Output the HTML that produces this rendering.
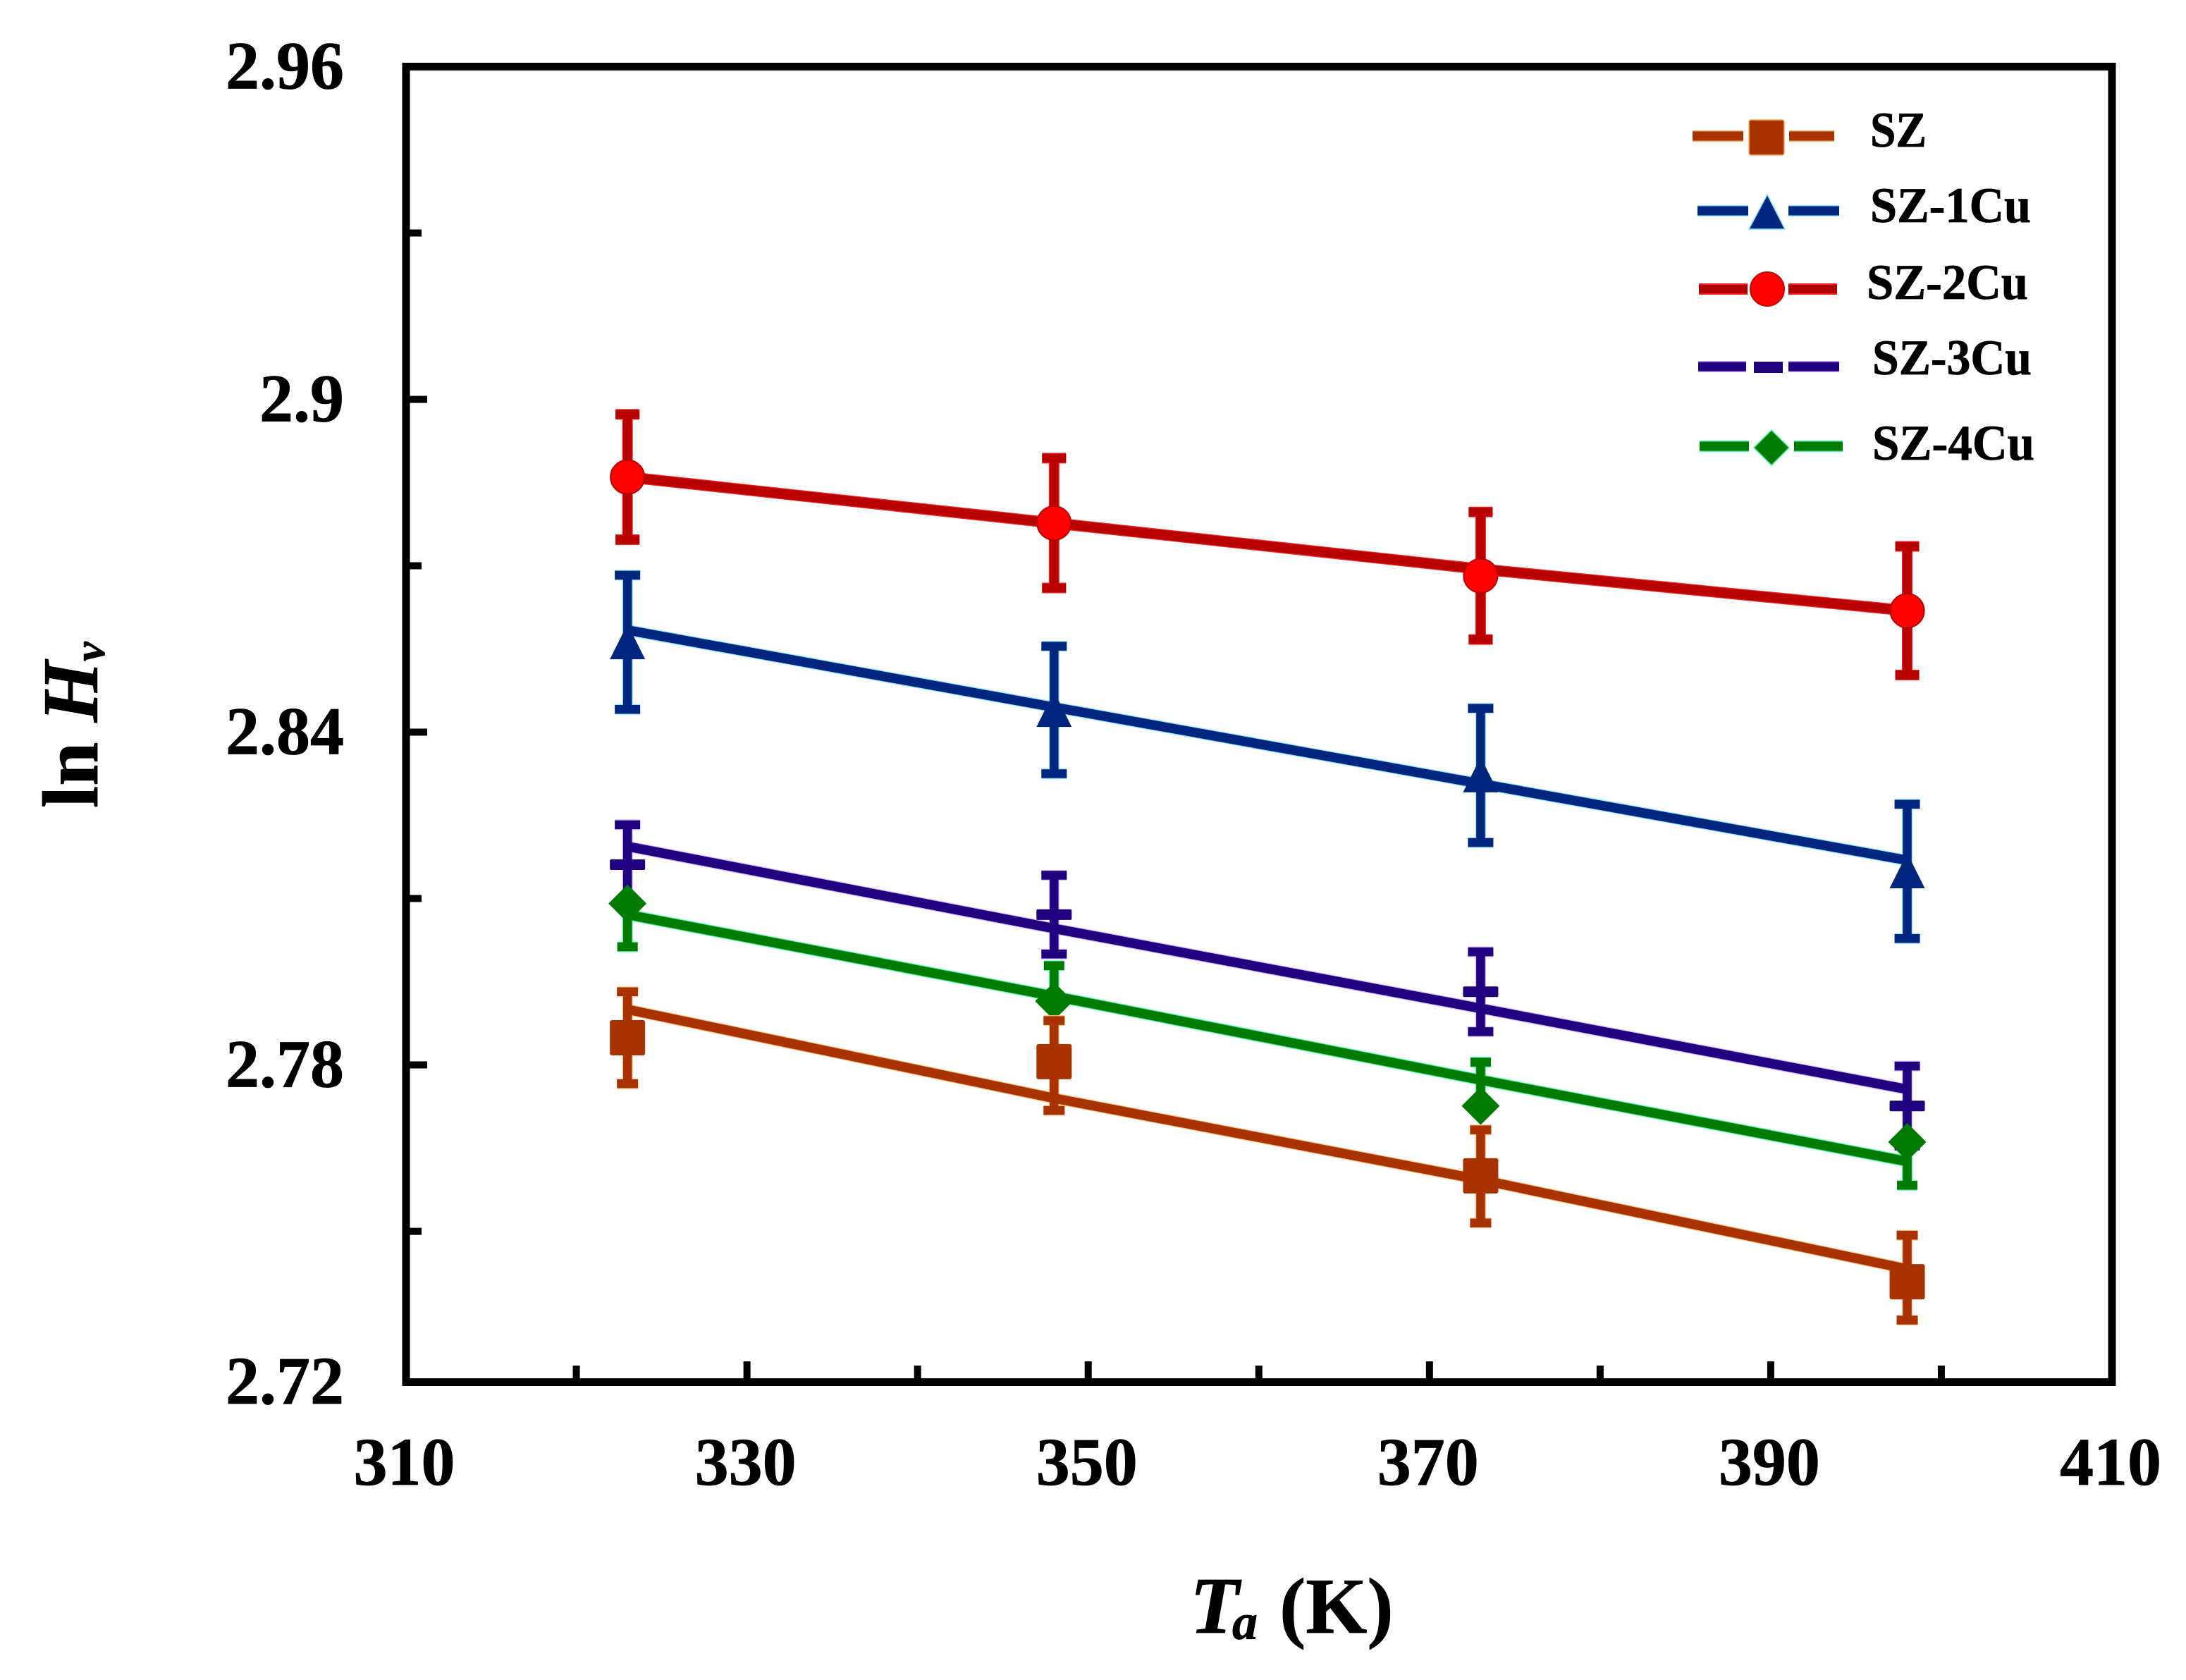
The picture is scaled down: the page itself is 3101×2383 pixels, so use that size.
<!DOCTYPE html>
<html lang="en">
<head>
<meta charset="utf-8">
<title>ln Hv versus Ta</title>
<style>
html,body{margin:0;padding:0;background:#fff;width:3101px;height:2383px;overflow:hidden}
svg{display:block}
text{font-family:"Liberation Serif",serif;font-weight:bold;fill:#000;stroke:#000;stroke-width:0.8px}
</style>
</head>
<body>
<svg id="chart" xmlns="http://www.w3.org/2000/svg" width="3101" height="2383" viewBox="0 0 3101 2383">
  <rect x="0" y="0" width="3101" height="2383" fill="#fff"/>
  <g id="ticks"></g>
  <g id="series"></g>
  <rect x="576" y="94.5" width="2420" height="1866" fill="none" stroke="#000" stroke-width="11"/>

  <text transform="translate(138,1146) rotate(-90)" font-size="112">ln <tspan font-style="italic">H</tspan></text>
  <text transform="translate(148,938) rotate(-90)" font-size="62" font-style="italic">v</text>
  <text x="1688" y="2316" font-size="114" font-style="italic">T</text>
  <text x="1748" y="2325" font-size="72" font-style="italic">a</text>
  <text x="1815" y="2316" font-size="112">(K)</text>

  <g>
    <g>
      <line x1="2401" y1="193" x2="2473" y2="193" stroke="#ffb060" stroke-width="16"/>
      <line x1="2538" y1="193" x2="2602" y2="193" stroke="#ffb060" stroke-width="16"/>
      <line x1="2401" y1="193" x2="2473" y2="193" stroke="#a83200" stroke-width="13"/>
      <line x1="2538" y1="193" x2="2602" y2="193" stroke="#a83200" stroke-width="13"/>
      <rect x="2481" y="170" width="50" height="50" rx="3" fill="#a83200" stroke="#ffb060" stroke-width="1.5"/>
      <text x="2653" y="208" font-size="71" textLength="80" lengthAdjust="spacingAndGlyphs">SZ</text>
    </g>
    <g>
      <line x1="2408" y1="299" x2="2480" y2="299" stroke="#7fe0ff" stroke-width="16"/>
      <line x1="2537" y1="299" x2="2609" y2="299" stroke="#7fe0ff" stroke-width="16"/>
      <line x1="2408" y1="299" x2="2480" y2="299" stroke="#00257f" stroke-width="13"/>
      <line x1="2537" y1="299" x2="2609" y2="299" stroke="#00257f" stroke-width="13"/>
      <polygon points="2507,276 2532,325 2481,325" fill="#00257f" stroke="#7fe0ff" stroke-width="1.5"/>
      <text x="2653" y="315" font-size="71" textLength="228" lengthAdjust="spacingAndGlyphs">SZ-1Cu</text>
    </g>
    <g>
      <line x1="2410" y1="410" x2="2479" y2="410" stroke="#f02020" stroke-width="16"/>
      <line x1="2537" y1="410" x2="2606" y2="410" stroke="#f02020" stroke-width="16"/>
      <line x1="2410" y1="410" x2="2479" y2="410" stroke="#b00000" stroke-width="12"/>
      <line x1="2537" y1="410" x2="2606" y2="410" stroke="#b00000" stroke-width="12"/>
      <circle cx="2507" cy="410" r="24" fill="#ff0000" stroke="#c80000" stroke-width="2"/>
      <text x="2648" y="424" font-size="71" textLength="229" lengthAdjust="spacingAndGlyphs">SZ-2Cu</text>
    </g>
    <g>
      <line x1="2409" y1="520" x2="2477" y2="520" stroke="#c8a0ff" stroke-width="16"/>
      <line x1="2537" y1="520" x2="2609" y2="520" stroke="#c8a0ff" stroke-width="16"/>
      <line x1="2409" y1="520" x2="2477" y2="520" stroke="#1f007f" stroke-width="13"/>
      <line x1="2537" y1="520" x2="2609" y2="520" stroke="#1f007f" stroke-width="13"/>
      <rect x="2488" y="513" width="41" height="16" fill="#1f007f"/>
      <text x="2656" y="531" font-size="71" textLength="226" lengthAdjust="spacingAndGlyphs">SZ-3Cu</text>
    </g>
    <g>
      <line x1="2411" y1="633" x2="2481" y2="633" stroke="#40ffa0" stroke-width="16"/>
      <line x1="2545" y1="633" x2="2614" y2="633" stroke="#40ffa0" stroke-width="16"/>
      <line x1="2411" y1="633" x2="2481" y2="633" stroke="#007a00" stroke-width="13"/>
      <line x1="2545" y1="633" x2="2614" y2="633" stroke="#007a00" stroke-width="13"/>
      <polygon points="2513,610 2538,635 2513,660 2488,635" fill="#007a00" stroke="#40ffa0" stroke-width="1.5"/>
      <text x="2656" y="652" font-size="71" textLength="230" lengthAdjust="spacingAndGlyphs">SZ-4Cu</text>
    </g>
  </g>
</svg>
<script>
// Chart data
const temperatures = [323, 348, 373, 398];
const xMajorTicks = [310, 330, 350, 370, 390, 410];
const xMinorTicks = [320, 340, 360, 380, 400];
const yMajorTicks = [2.96, 2.9, 2.84, 2.78, 2.72];
const yMinorTicks = [2.93, 2.87, 2.81, 2.75];

const szValues = [2.7849, 2.7806, 2.76, 2.7409];
const szFit = [2.79, 2.774, 2.7593, 2.7432];
const szErrUp = [0.0083, 0.0074, 0.0083, 0.0084];
const szErrDown = [0.0083, 0.0088, 0.0085, 0.0069];

const cu1Values = [2.8562, 2.844, 2.8322, 2.8149];
const cu1Fit = [2.8584, 2.8445, 2.8307, 2.8169];
const cu1ErrUp = [0.0121, 0.0115, 0.0121, 0.0121];
const cu1ErrDown = [0.0121, 0.0115, 0.0121, 0.0121];

const cu2Values = [2.886, 2.8777, 2.8682, 2.8619];
const cu2Fit = [2.886, 2.8777, 2.8694, 2.8619];
const cu2ErrUp = [0.0113, 0.0117, 0.0115, 0.0116];
const cu2ErrDown = [0.0113, 0.0117, 0.0115, 0.0116];

const cu3Values = [2.8161, 2.8071, 2.7932, 2.7726];
const cu3Fit = [2.8194, 2.8046, 2.7902, 2.7756];
const cu3ErrUp = [0.0072, 0.0071, 0.0072, 0.0072];
const cu3ErrDown = [0.0072, 0.0071, 0.0072, 0.0072];

const cu4Values = [2.8091, 2.7915, 2.7726, 2.7661];
const cu4Fit = [2.8071, 2.7924, 2.7773, 2.7626];
const cu4ErrUp = [0, 0.0064, 0.0079, 0];
const cu4ErrDown = [0.0078, 0, 0, 0.0078];

const NS = 'http://www.w3.org/2000/svg';
const xScale = v => 575.5 + (v - 310) * 24.205;
const yScale = v => 94.5 + (2.96 - v) * 7867;
const yAxisBottom = 1960;

function mk(tag, attrs, parent) {
  const el = document.createElementNS(NS, tag);
  for (const k in attrs) el.setAttribute(k, attrs[k]);
  parent.appendChild(el);
  return el;
}

const tickG = document.getElementById('ticks');
const seriesG = document.getElementById('series');

xMajorTicks.forEach(v => {
  const t = mk('line', {x1: xScale(v), x2: xScale(v), y1: yAxisBottom, y2: 1931, stroke: '#000', 'stroke-width': 10}, tickG);
  
  
  const l = mk('text', {x: xScale(v) - 2, y: 2106, 'font-size': 96, 'text-anchor': 'middle'}, tickG);
  
  
  l.textContent = String(v);
});
xMinorTicks.forEach(v => {
  const t = mk('line', {x1: xScale(v), x2: xScale(v), y1: yAxisBottom, y2: 1937, stroke: '#000', 'stroke-width': 10}, tickG);
  
  
});
yMajorTicks.forEach(v => {
  const py = Math.min(yScale(v), yAxisBottom);
  const t = mk('line', {x1: 576, x2: 606, y1: py, y2: py, stroke: '#000', 'stroke-width': 10}, tickG);
  
  
  const l = mk('text', {x: 488, y: py + 31, 'font-size': 96, 'text-anchor': 'end'}, tickG);
  
  
  l.textContent = String(v);
});
yMinorTicks.forEach(v => {
  const t = mk('line', {x1: 576, x2: 598, y1: yScale(v), y2: yScale(v), stroke: '#000', 'stroke-width': 10}, tickG);
  
  
});

function drawMarker(shape, cx, cy, color, g) {
  let m;
  if (shape === 'square') {
    m = mk('rect', {x: cx - 25, y: cy - 25, width: 50, height: 50, rx: 3, fill: color}, g);
  } else if (shape === 'triangle') {
    m = mk('polygon', {points: [cx, cy - 26, cx + 25, cy + 24, cx - 25, cy + 24].join(' '), fill: color}, g);
  } else if (shape === 'circle') {
    m = mk('circle', {cx: cx, cy: cy, r: 24, fill: '#ff0000', stroke: color, 'stroke-width': 2}, g);
  } else if (shape === 'dash') {
    m = mk('rect', {x: cx - 25, y: cy - 7.5, width: 50, height: 15, rx: 2, fill: color}, g);
  } else {
    m = mk('polygon', {points: [cx, cy - 27, cx + 27, cy, cx, cy + 27, cx - 27, cy].join(' '), fill: color}, g);
  }
  
  
}

function errPath(cx, v, up, down, capW) {
  let d = '';
  const top = yScale(v + up), bot = yScale(v - down);
  d += `M${cx} ${top}V${bot}`;
  if (up > 0) d += `M${cx - capW / 2} ${top}H${cx + capW / 2}`;
  if (down > 0) d += `M${cx - capW / 2} ${bot}H${cx + capW / 2}`;
  return d;
}

function drawSeries(name, shape, values, fit, errUp, errDown, color, halo, capW) {
  const g = mk('g', {}, seriesG);
  
  
  const pts = temperatures.map((t, i) => xScale(t) + ',' + yScale(fit[i])).join(' ');
  const h = mk('polyline', {points: pts, fill: 'none', stroke: halo, 'stroke-width': 16}, g);
  
  
  temperatures.forEach((t, i) => {
    const eh = mk('path', {d: errPath(xScale(t), values[i], errUp[i], errDown[i], capW), fill: 'none', stroke: halo, 'stroke-width': 15}, g);
    
    
  });
  const l = mk('polyline', {points: pts, fill: 'none', stroke: color, 'stroke-width': 13.5}, g);
  
  
  temperatures.forEach((t, i) => {
    const e = mk('path', {d: errPath(xScale(t), values[i], errUp[i], errDown[i], capW), fill: 'none', stroke: color, 'stroke-width': 12.5}, g);
    
    
    drawMarker(shape, xScale(t), yScale(values[i]), color, g);
  });
}

drawSeries('series-sz-1cu', 'triangle', cu1Values, cu1Fit, cu1ErrUp, cu1ErrDown, '#00257f', '#8fe4ff', 36);
drawSeries('series-sz-2cu', 'circle', cu2Values, cu2Fit, cu2ErrUp, cu2ErrDown, '#b80000', '#f02828', 34);
drawSeries('series-sz-3cu', 'dash', cu3Values, cu3Fit, cu3ErrUp, cu3ErrDown, '#1f007f', '#d8b8ff', 36);
drawSeries('series-sz-4cu', 'diamond', cu4Values, cu4Fit, cu4ErrUp, cu4ErrDown, '#007a00', '#50ffb0', 29);
drawSeries('series-sz', 'square', szValues, szFit, szErrUp, szErrDown, '#a83200', '#ffc890', 30);
</script>
</body>
</html>
